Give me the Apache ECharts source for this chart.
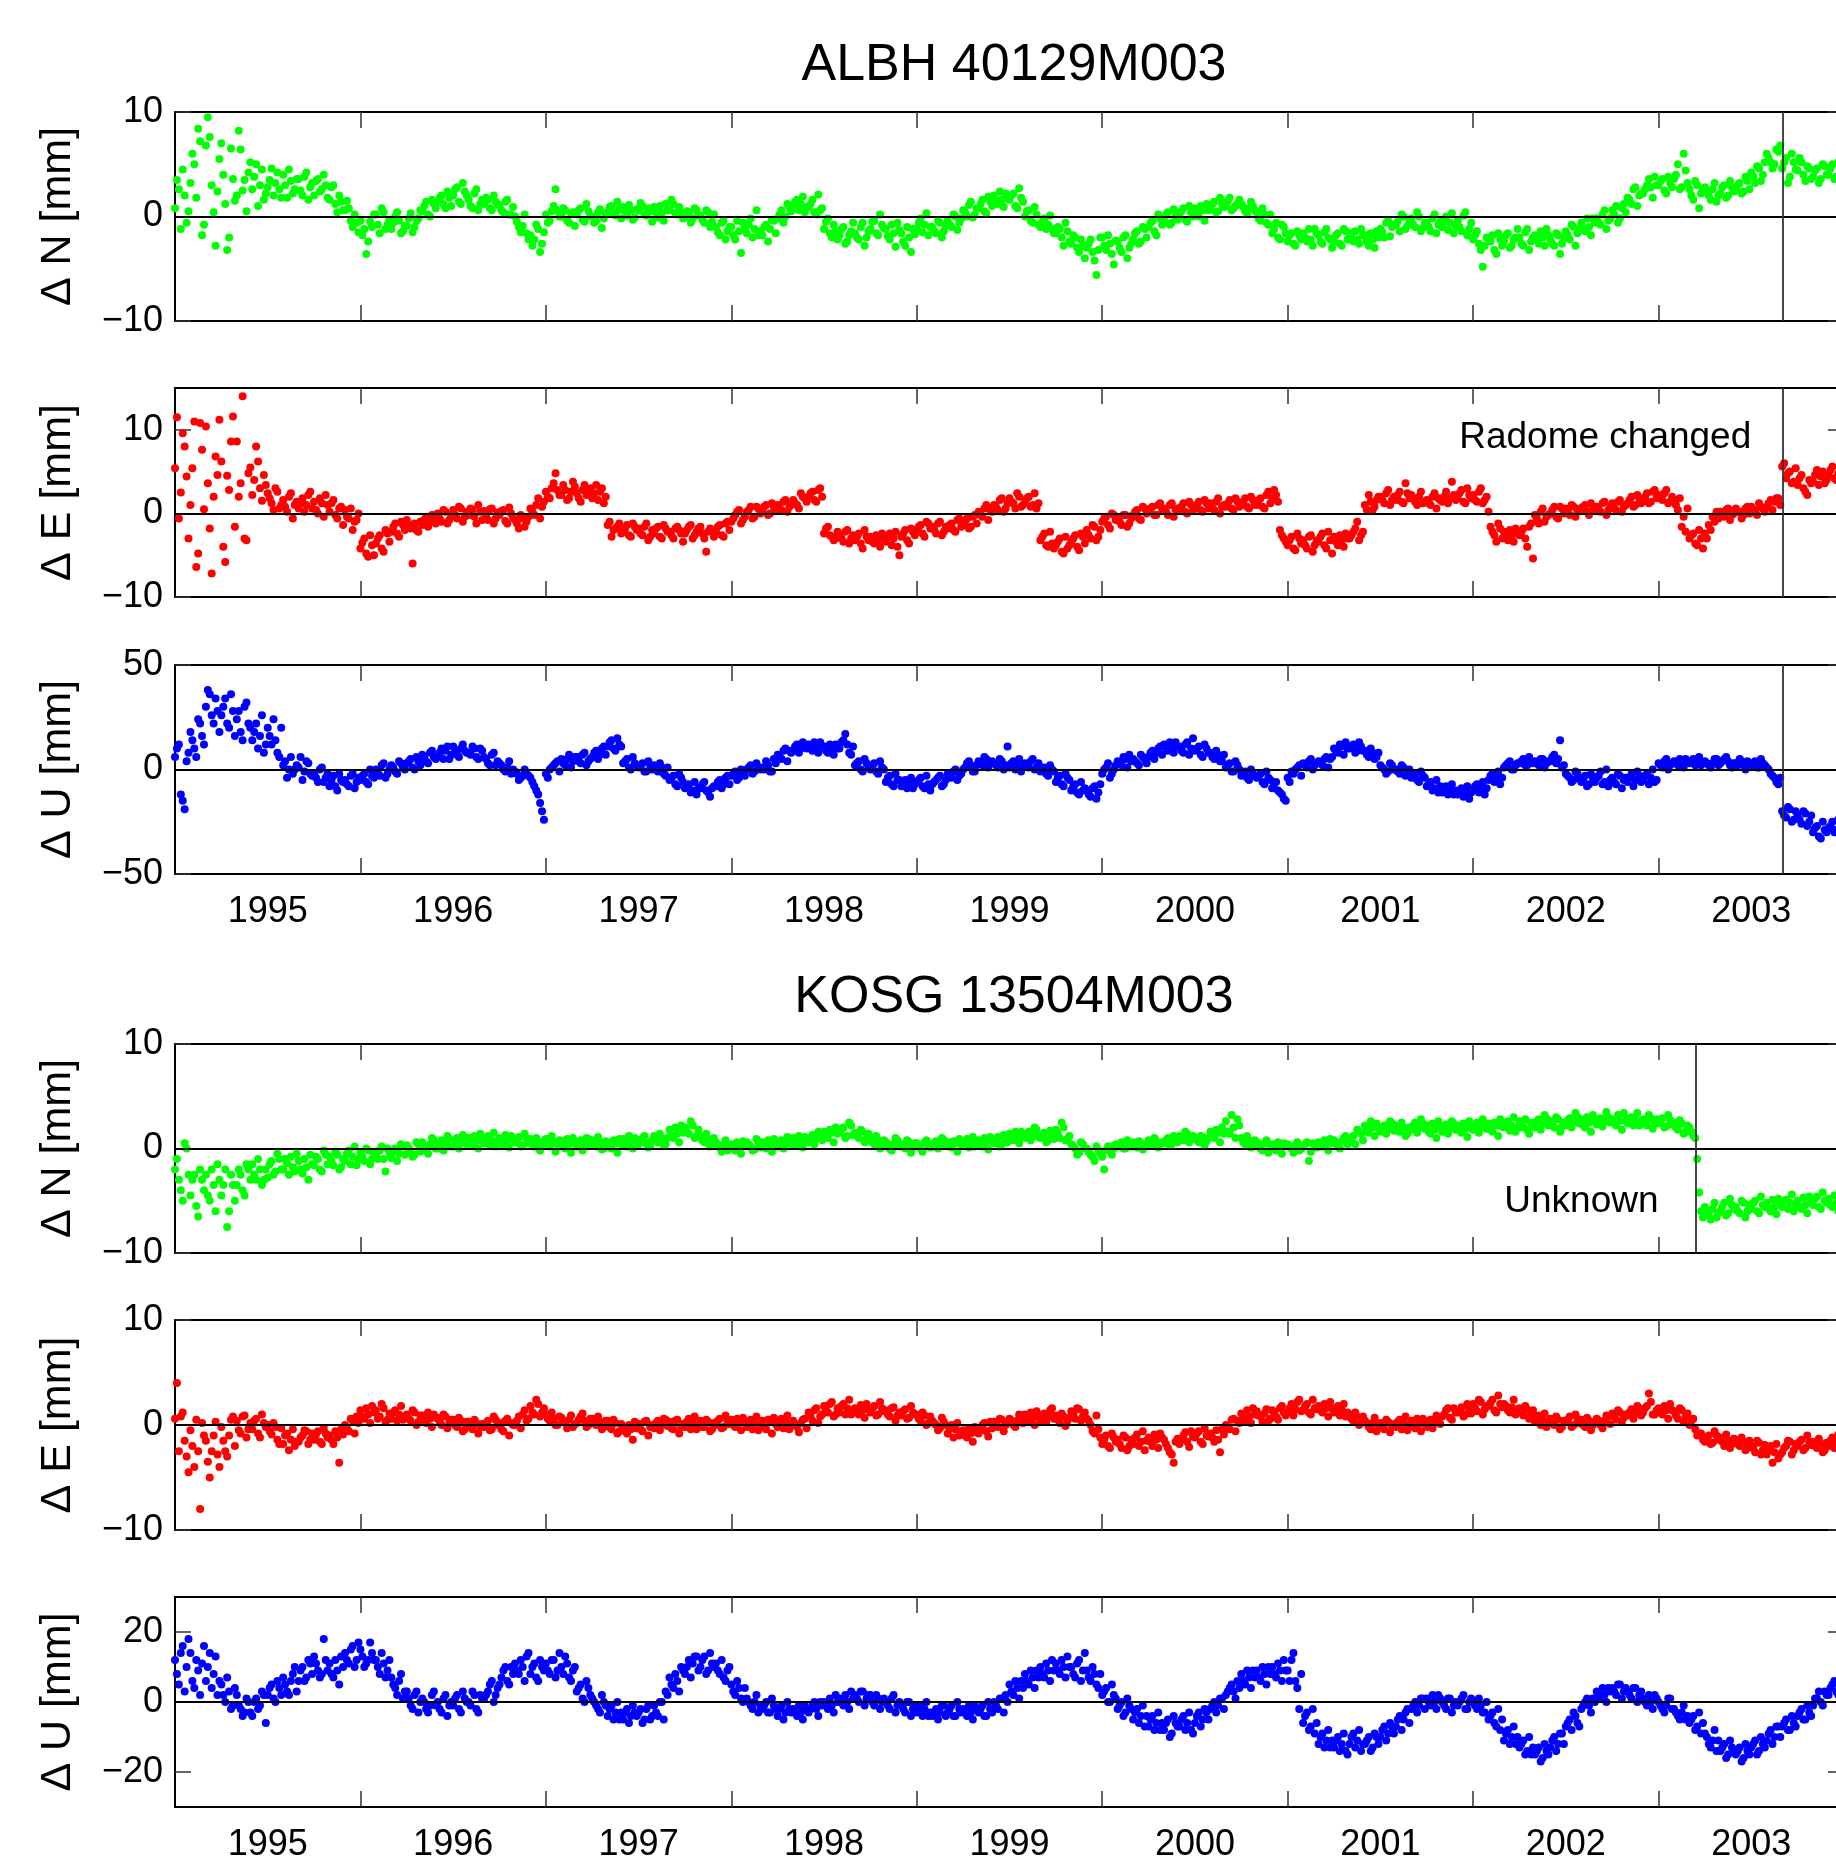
<!DOCTYPE html>
<html><head><meta charset="utf-8">
<script src="https://cdn.jsdelivr.net/npm/echarts@6/dist/echarts.min.js"></script>
<style>html,body{margin:0;padding:0;background:#fff}#c{width:1836px;height:1860px}</style>
</head><body><div id="c"></div>
<script>
// ---- data: two interleaved sample sets per panel (A at (k+0.5)/48, B at k/48 of a year), from 1995.0 ----
const startYear = 1995;
const samplesPerYear = 48;
const stationTitles = ['ALBH 40129M003', 'KOSG 13504M003'];
const yearTickValues = [1996, 1997, 1998, 1999, 2000, 2001, 2002, 2003];
const yearLabelValues = [1995.5, 1996.5, 1997.5, 1998.5, 1999.5, 2000.5, 2001.5, 2002.5, 2003.5];
const eventALBH = 2003.667;
const eventKOSG = 2003.20;
const noteALBH = {text: 'Radome changed', x: 2003.5, y: 9};
const noteKOSG = {text: 'Unknown', x: 2003.0, y: -5.1};

const N_ALBH = [
3.5,-1.2,2.0,0.5, 6.0,1.8,7.2,-0.8, 9.5,3.0,-2.8,5.5, 4.0,-3.2,6.5,1.5, 8.2,2.5,0.5,5.2, 3.8,1.0,4.5,2.2, 3.5,2.0,4.2,1.8, 3.0,4.5,2.2,3.6, 2.5,3.8,1.6,3.2, 3.4,2.4,4.0,1.8, 2.8,1.2,2.0,0.6, 1.5,-0.4,0.2,-1.5,
-1.8,-3.6,-0.5,0.2, -0.8,0.8,-1.2,-0.3, -0.6,0.4,-1.6,-0.9, -0.2,-1.5,-0.4,0.6, 1.0,0.2,1.6,0.8, 1.8,1.2,2.4,1.0, 2.6,1.4,3.2,2.0, 1.0,2.2,0.6,1.6, 1.8,0.8,2.0,1.2, 0.6,1.4,0.2,0.9, -0.5,-1.5,0.2,-2.2, -2.8,-0.8,-3.4,-1.5,
-0.6,0.5,2.6,0.0, 0.8,-0.4,0.3,-0.9, 0.6,-0.3,1.2,0.0, -0.6,0.4,-1.1,0.2, 0.9,0.3,1.4,-0.2, 0.5,1.1,-0.3,0.7, 1.3,0.2,0.8,-0.5, 0.4,1.0,-0.4,0.6, 1.6,0.3,0.9,-0.2, 0.5,-0.6,0.8,0.1, -0.3,0.6,-1.0,0.2, -1.5,-0.6,-2.2,-1.0,
-1.8,-0.4,-3.5,-1.2, -0.8,-2.0,0.6,-1.4, -1.0,-2.4,-0.3,-1.6, 0.2,-0.6,1.2,0.5, 1.4,0.6,1.9,0.9, 1.2,0.4,2.1,0.8, -0.5,-1.6,-0.8,-2.2, -1.2,-2.6,-1.8,-0.6, -2.0,-1.0,-2.8,-1.4, -0.5,-1.6,0.2,-1.1, -1.9,-0.8,-2.9,-1.3, -2.4,-1.0,-3.4,-1.7,
-0.6,-1.5,0.3,-1.0, -1.4,-0.4,-2.0,-0.9, -0.8,0.2,-1.3,-0.2, 0.4,1.1,-0.1,0.8, 1.2,0.5,1.9,1.0, 1.5,2.4,0.9,1.8, 2.0,1.0,2.7,1.4, 0.5,-0.4,0.9,-0.8, -0.5,-1.2,0.1,-1.6, -1.0,-2.0,-0.6,-2.4, -1.8,-3.0,-2.2,-4.0, -2.6,-3.4,-5.6,-2.0,
-2.8,-1.8,-3.6,-2.3, -3.0,-2.0,-4.0,-2.6, -1.6,-2.6,-1.0,-2.0, -0.6,-1.4,0.2,-0.8, 0.2,-0.8,0.7,-0.3, 0.5,-0.3,1.0,0.0, 0.3,1.0,-0.4,0.6, 1.2,0.4,1.8,0.9, 1.5,0.6,1.0,1.6, 0.9,0.3,1.4,0.6, -0.2,0.8,-0.6,0.2, -1.2,-2.0,-0.8,-1.6,
-1.8,-2.6,-1.4,-2.2, -2.0,-1.2,-2.8,-1.6, -2.4,-1.5,-2.0,-3.0, -1.8,-2.6,-1.2,-2.2, -2.0,-1.4,-2.6,-1.8, -2.4,-1.6,-3.0,-2.0, -1.5,-0.6,-1.9,-0.8, -0.5,0.2,-1.2,-0.4, -0.8,0.4,-1.4,-0.6, -1.0,-0.2,-1.6,-0.5, -0.4,-1.3,0.3,-0.9, -1.0,0.1,-1.8,-0.6,
-1.8,-2.6,-4.8,-2.0, -2.4,-3.2,-1.6,-2.8, -1.8,-3.0,-2.2,-1.2, -2.6,-1.5,-3.2,-2.0, -2.2,-1.4,-2.8,-1.8, -2.6,-1.6,-3.6,-2.0, -1.8,-0.8,-2.8,-1.2, -1.2,-0.2,-1.8,-0.6, -0.6,0.2,-1.2,-0.2, 0.2,-0.6,0.8,0.4, 1.6,2.6,1.0,2.2, 2.6,3.6,1.8,3.0,
3.4,2.5,3.8,2.8, 4.0,2.6,6.0,3.2, 2.0,3.4,0.8,2.6, 2.4,1.6,3.2,2.0, 2.8,1.8,3.4,2.4, 3.0,2.2,3.8,2.6, 3.8,4.8,3.4,5.2, 5.6,4.6,6.4,6.8, 5.2,3.2,6.0,4.5, 5.6,4.0,4.8,3.6, 4.4,3.2,5.0,4.0, 4.6,3.6,5.2,4.2
];
const N_ALBH_B = [
0.8,2.6,4.5,-0.6, 3.2,5.0,8.4,-1.8, 6.8,7.6,0.4,2.4, 7.0,1.2,-2.0,3.6, 2.0,6.4,3.5,4.2, 2.6,5.0,3.0,1.6, 2.8,4.6,3.2,2.6, 4.0,1.8,3.4,2.6, 3.6,2.0,4.2,2.8, 2.0,3.6,2.6,3.0, 1.6,3.0,0.4,1.4, 0.6,0.8,-1.0,-0.6,
-0.4,-1.2,-2.4,-1.0, 0.2,-1.6,0.4,-0.8, -1.2,0.0,-0.4,-1.4, -0.9,0.3,-1.0,-0.2, 0.5,1.4,0.0,1.2, 1.4,2.0,0.8,1.8, 2.0,2.8,1.2,2.4, 1.6,0.8,2.6,1.2, 1.2,1.6,0.6,1.4, 1.0,0.4,1.6,0.2, 0.0,-1.0,-0.9,-1.6, -1.8,-2.2,-1.2,-2.6,
0.2,-0.4,1.0,0.6, 0.0,0.6,-0.6,0.4, 0.2,0.8,-0.5,0.5, 0.0,-0.4,0.7,-0.2, 0.4,1.0,0.1,0.7, 0.9,0.1,0.6,-0.1, 0.6,1.0,0.1,0.5, 0.9,-0.1,0.3,1.2, 0.6,1.2,0.2,0.4, 0.0,0.4,-0.2,0.6, 0.1,-0.6,0.4,-0.5, -1.0,-1.8,-0.4,-1.4,
-1.0,-2.2,-1.4,-0.6, -1.6,-0.2,-1.2,-1.8, -1.8,-0.8,-1.2,-0.4, -0.2,0.6,0.0,0.9, 1.0,1.6,1.2,0.4, 0.9,1.6,0.2,0.6, -1.2,-0.2,-2.0,-1.4, -1.8,-1.0,-2.4,-1.4, -1.6,-2.2,-0.6,-2.0, -1.2,-0.4,-1.8,-0.8, -1.2,-2.2,-1.6,-0.6, -1.6,-2.8,-2.0,-1.2,
-1.2,-0.2,-0.8,-1.8, -1.0,-1.6,-0.6,-1.4, -0.4,-1.0,0.0,-0.6, 0.6,0.0,1.4,0.2, 0.8,1.6,0.3,1.4, 2.0,1.2,1.6,2.2, 1.6,2.2,0.8,1.8, 0.0,0.6,-0.6,0.2, -1.0,-0.2,-0.8,-1.2, -1.6,-1.2,-2.8,-1.4, -2.6,-2.0,-3.4,-2.8, -3.0,-2.2,-4.2,-3.2,
-2.0,-3.2,-2.6,-4.6, -2.4,-3.4,-1.8,-3.0, -2.2,-1.4,-2.4,-1.2, -1.0,-0.4,-1.8,-0.2, -0.4,0.4,-0.6,0.0, 0.2,0.8,-0.5,0.4, 0.8,0.0,0.6,1.2, 0.7,1.4,0.5,1.2, 1.0,1.8,0.8,1.2, 1.2,0.5,0.8,1.0, 0.4,-0.4,0.2,-0.8, -1.6,-0.6,-2.2,-1.0,
-2.4,-1.6,-2.8,-1.8, -1.6,-2.4,-2.2,-1.2, -1.8,-2.6,-1.2,-2.2, -2.4,-1.6,-2.8,-1.4, -1.6,-2.4,-2.2,-1.2, -1.8,-2.8,-2.2,-1.4, -1.2,-2.0,-0.4,-1.0, -0.8,-1.4,0.0,-0.9, -0.2,-1.0,0.0,-1.1, -0.6,-1.4,0.2,-0.8, -1.0,0.0,-0.6,-1.6, -0.4,-1.4,0.4,-1.2,
-2.2,-1.4,-3.2,-2.8, -2.0,-1.8,-3.6,-2.2, -2.4,-1.6,-2.8,-2.0, -2.0,-2.8,-1.2,-2.4, -1.8,-2.6,-2.0,-1.2, -2.2,-2.8,-1.8,-2.6, -1.4,-2.2,-1.0,-1.6, -0.6,-1.4,-1.0,-0.2, -0.2,-0.8,0.6,-0.4, 0.6,1.0,-0.2,1.2, 1.8,1.2,2.8,2.0, 2.2,3.0,2.8,3.8,
3.0,3.6,2.2,3.2, 3.6,5.0,2.8,4.4, 2.6,1.6,3.0,2.2, 2.8,2.0,2.6,1.4, 2.2,3.0,2.0,2.8, 2.6,3.2,2.4,3.4, 4.2,3.2,4.6,4.0, 6.0,5.2,5.0,6.2, 4.6,5.6,3.8,5.2, 4.4,5.2,3.4,4.6, 3.8,4.6,3.6,4.8, 4.0,5.0,3.8,4.8
];
const E_ALBH = [
11.5,2.5,8.0,-3.0, 5.4,-6.4,10.8,0.5, 3.6,-7.2,6.8,11.2, -4.0,4.5,8.6,-1.6, 2.0,14.0,-3.2,5.5, 4.0,6.2,1.5,3.4, 1.8,0.4,2.6,1.0, 0.8,2.0,-0.6,1.4, 1.2,0.2,2.2,0.6, 0.4,1.8,-0.4,1.0, 1.2,-0.2,0.6,-1.4, -0.4,0.6,-1.0,0.0,
-3.5,-4.8,-2.6,-5.0, -3.0,-4.2,-2.0,-3.4, -1.6,-2.4,-1.0,-2.0, -1.4,-6.0,-2.0,-1.0, -0.8,-1.6,-0.2,-1.2, -0.6,0.4,-1.2,-0.2, -0.2,0.8,-1.0,0.2, 0.6,-0.4,1.0,-0.8, -0.3,0.5,-1.2,0.1, 0.3,-0.9,0.7,-0.5, -1.2,-0.2,-1.6,-0.4, 0.2,1.0,-0.6,1.4,
2.0,3.0,4.8,2.2, 3.4,1.6,2.6,3.2, 1.8,2.8,2.2,3.0, 2.4,1.6,3.0,2.0, -1.0,-2.0,-1.6,-2.4, -1.8,-2.6,-1.2,-2.0, -2.4,-1.6,-3.2,-2.0, -1.8,-2.8,-1.4,-2.2, -2.6,-1.8,-2.0,-3.4, -2.0,-1.4,-2.6,-1.8, -2.4,-4.6,-1.8,-2.8, -1.6,-2.6,-1.2,-2.0,
-0.6,0.2,-1.2,-0.4, 0.4,-0.6,0.8,0.0, 0.8,-0.2,1.2,0.4, 0.6,1.4,0.2,1.0, 1.2,0.6,2.0,1.4, 2.4,1.6,2.8,2.0, -1.8,-2.6,-3.2,-2.2, -3.0,-2.2,-3.6,-2.6, -2.8,-3.6,-2.0,-3.2, -3.4,-2.6,-4.0,-3.0, -2.8,-3.8,-2.2,-5.0, -2.4,-3.2,-1.8,-2.6,
-1.6,-2.4,-1.0,-1.8, -2.0,-1.2,-2.6,-1.6, -1.4,-2.0,-0.8,-1.6, -1.0,-1.8,-0.4,-1.2, -0.2,0.6,-0.8,0.2, 0.8,1.6,0.2,1.2, 1.4,0.6,2.0,1.0, 1.8,0.8,2.4,1.2, -2.8,-3.8,-2.2,-4.2, -3.4,-4.6,-2.8,-3.8, -3.0,-4.0,-2.4,-3.6, -2.6,-1.4,-3.2,-2.0,
-0.6,-1.4,0.0,-0.8, -1.0,-0.2,-1.6,-0.6, 0.2,-0.6,0.8,0.0, 0.6,-0.2,1.0,0.4, 0.2,1.0,-0.4,0.6, 0.8,0.2,1.4,0.4, 1.0,0.4,1.6,0.6, 0.6,1.4,0.0,1.0, 1.2,0.6,1.8,0.8, 1.4,0.8,2.0,1.0, 1.6,0.8,2.2,1.2, 2.8,1.4,-2.6,-3.4,
-3.2,-4.2,-2.4,-3.6, -3.8,-2.8,-4.6,-3.2, -2.8,-3.8,-2.2,-4.8, -3.4,-2.6,-4.0,-3.0, -2.6,-1.8,-3.2,-2.2, 0.4,1.4,0.8,2.0, 1.6,2.4,1.0,2.0, 2.2,1.4,3.6,1.8, 1.8,1.0,2.6,1.4, 1.2,2.0,0.6,1.6, 2.0,1.2,3.8,1.6, 2.4,1.4,3.0,1.8,
1.6,2.6,1.2,2.0, -1.6,-2.6,-1.2,-3.0, -2.8,-2.0,-3.4,-2.4, -2.2,-3.0,-1.6,-5.4, -0.6,0.2,-1.0,-0.2, 0.4,-0.4,0.8,0.0, 0.2,1.0,-0.4,0.6, 0.8,0.2,1.2,0.4, 0.4,1.2,-0.2,0.8, 0.6,1.4,0.2,1.0, 1.6,0.8,2.2,1.2, 2.0,1.2,2.6,1.8,
1.8,2.4,1.2,2.0, 1.0,1.8,-0.4,0.6, -2.6,-3.6,-2.0,-4.2, -3.0,-2.0,-1.0,-0.6, -0.2,0.4,-0.8,0.0, 0.2,-0.6,0.6,0.0, 0.4,-0.2,0.8,0.2, 1.2,0.4,1.8,1.0, 6.0,4.8,3.6,5.4, 4.2,3.0,2.2,3.6, 4.6,3.4,5.0,4.0, 5.2,4.2,4.8,5.6
];
const E_ALBH_B = [
5.4,-0.6,9.6,4.4, 1.0,11.0,-4.8,7.6, 10.4,-1.8,2.0,4.6, 6.2,-5.8,2.8,11.6, 8.6,3.6,-3.0,4.8, 2.2,8.0,3.0,4.6, 2.4,1.2,3.0,0.6, 1.6,0.2,2.4,1.0, 0.6,1.8,1.0,2.6, 1.4,0.0,1.2,2.2, 0.2,1.6,-0.6,0.8, 0.4,-0.6,-2.0,-0.8,
-4.2,-3.0,-5.2,-3.8, -3.6,-2.6,-4.6,-2.4, -2.2,-1.2,-2.8,-1.4, -0.8,-1.8,-1.2,-2.2, -1.4,-0.4,-1.0,-0.6, 0.0,-1.0,0.2,-0.8, 0.4,-0.6,0.6,-0.4, -0.2,0.4,-1.2,0.2, 0.3,-0.8,0.6,-0.6, -0.2,0.4,-1.2,0.0, -0.8,-1.8,-0.6,-1.0, 0.6,-0.2,1.8,0.8,
2.6,1.8,3.6,2.8, 2.2,2.8,1.8,3.8, 2.4,1.4,3.4,2.6, 1.8,3.4,2.6,1.2, -1.4,-2.8,-1.8,-1.2, -2.2,-1.4,-2.8,-1.6, -1.8,-2.6,-1.2,-2.8, -2.4,-1.6,-3.0,-1.8, -2.2,-3.0,-1.6,-2.4, -2.4,-1.6,-3.0,-2.2, -1.6,-3.0,-2.2,-2.0, -2.2,-1.4,-2.8,-1.0,
-1.0,-0.2,0.4,-0.8, 0.2,0.8,-0.4,0.6, 0.4,1.0,0.0,0.8, 1.0,0.4,1.6,0.8, 1.6,1.0,2.4,1.8, 2.0,2.6,1.4,3.0, -2.4,-1.6,-2.8,-3.0, -2.6,-3.4,-2.0,-3.0, -3.2,-2.4,-4.2,-2.8, -2.8,-3.6,-3.2,-2.4, -3.4,-2.4,-3.0,-4.0, -2.8,-2.0,-3.6,-2.2,
-2.0,-1.4,-2.8,-1.2, -1.6,-2.4,-1.0,-2.2, -1.8,-1.2,-2.2,-0.6, -1.4,-0.6,-1.6,-0.2, 0.2,-0.4,1.0,0.4, 1.0,0.4,1.8,0.6, 1.8,1.2,2.4,0.8, 1.4,2.0,1.0,0.6, -3.2,-2.4,-4.0,-3.6, -3.8,-3.0,-4.8,-4.2, -3.4,-2.6,-4.4,-2.8, -2.0,-3.0,-1.6,-2.8,
-1.0,-0.4,-1.8,-0.2, -0.6,-1.4,-0.2,-1.2, -0.2,0.4,-0.8,0.6, 0.2,0.8,-0.2,1.2, 0.6,-0.2,1.2,0.4, 0.4,1.2,0.0,1.0, 0.6,1.4,0.2,1.2, 1.2,0.4,1.8,0.8, 0.8,1.6,0.4,1.4, 1.0,1.8,0.6,1.6, 1.0,1.8,0.6,2.6, 1.8,2.2,-2.0,-3.0,
-3.8,-2.8,-4.4,-3.0, -3.2,-4.2,-2.6,-3.8, -3.4,-2.4,-4.2,-3.2, -2.8,-3.8,-3.2,-2.4, -3.0,-2.2,-1.0,-2.6, 1.0,2.2,0.4,1.6, 2.0,1.2,2.8,1.6, 1.6,2.6,1.2,2.4, 2.2,1.4,2.0,1.2, 1.6,1.0,2.4,1.8, 1.4,2.6,1.8,2.2, 1.8,2.8,1.2,2.2,
2.2,1.4,3.0,1.6, 0.2,-2.2,-3.4,-1.8, -2.2,-3.2,-2.6,-1.8, -2.6,-1.8,-4.0,-1.2, -0.2,-1.2,0.6,-0.4, 0.0,0.8,-0.6,0.6, 0.6,-0.2,0.8,0.2, 0.4,1.0,-0.2,0.8, 0.8,0.2,1.4,0.4, 1.2,0.4,1.6,0.8, 1.2,2.0,1.0,1.8, 1.6,2.4,1.4,2.8,
2.2,1.6,2.8,1.4, 1.4,0.4,-1.6,-2.2, -3.0,-2.4,-3.8,-3.0, -2.4,-1.4,-0.4,0.2, 0.2,-0.4,0.6,-0.2, 0.6,0.2,-0.2,0.8, 0.8,0.4,1.2,0.6, 0.8,1.6,1.4,1.8, 5.6,4.2,5.0,3.8, 3.4,4.6,2.6,4.0, 3.8,5.2,4.4,3.6, 4.6,5.6,4.0,5.0
];
const U_ALBH = [
10,-12,-19,8, 14,6,22,12, 38,26,34,18, 30,22,36,16, 28,14,32,20, 18,10,26,12, 16,24,8,20, 4,0,-2,2, 6,-1,3,-3, -4,0,-6,-2, -5,-8,-2,-6, -7,-3,-9,-4,
-3,-6,0,-4, -1,2,-4,0, 1,-2,3,0, 4,1,6,2, 6,3,9,5, 8,5,11,7, 9,6,12,8, 7,10,5,9, 5,2,8,4, 2,-1,4,0, -2,-4,0,-3, -6,-10,-16,-24,
-4,1,3,-1, 3,5,1,6, 4,7,2,5, 8,5,10,7, 13,10,15,11, 4,1,6,2, 2,-1,4,0, 0,3,-2,1, -4,-7,-2,-6, -8,-11,-6,-9, -7,-10,-13,-8, -6,-9,-4,-7,
-2,-5,0,-3, 1,-2,3,0, 0,2,-1,3, 6,9,4,8, 11,8,13,10, 10,13,8,11, 9,12,7,10, 13,17,8,11, 3,0,5,1, 2,-1,4,0, -4,-7,-2,-5, -6,-9,-4,-7,
-5,-8,-3,-10, -6,-4,-8,-5, -3,-1,-5,-2, 1,4,-1,2, 3,6,1,4, 2,5,0,11, 3,0,5,1, 2,4,0,3, 0,-2,2,-1, -4,-7,-2,-5, -8,-11,-6,-9, -12,-9,-14,-7,
0,3,-2,2, 3,6,1,4, 4,2,6,3, 8,5,10,7, 10,13,8,11, 9,12,7,15, 10,7,12,8, 6,9,4,7, 2,-1,4,0, -2,-4,0,-3, -3,-6,-1,-5, -7,-10,-12,-15,
-6,-2,1,-3, 2,4,0,3, 3,5,1,6, 9,12,7,10, 11,8,13,9, 7,10,5,8, 1,-2,3,0, -1,2,-3,0, -3,-5,-1,-4, -7,-10,-5,-8, -9,-12,-7,-10, -10,-13,-8,-11,
-8,-11,-6,-9, -3,-6,-1,-4, 2,4,0,3, 4,2,6,3, 3,5,1,4, 6,3,14,2, -3,-6,-1,-4, -5,-8,-2,-6, -3,-7,0,-5, -6,-2,-9,-4, -4,-8,-1,-6, -3,-7,0,-5,
2,4,0,3, 3,5,1,4, 4,2,6,3, 3,1,5,2, 4,6,2,3, 2,4,0,3, 3,1,5,2, 0,-3,-6,-4, -22,-18,-25,-20, -24,-20,-27,-22, -28,-32,-25,-30, -27,-30,-24,-26
];
const U_ALBH_B = [
6,12,-15,4, 18,10,24,16, 30,36,22,28, 26,34,20,28, 24,18,30,22, 14,22,16,8, 20,12,14,6, 2,-4,6,0, 1,-5,4,-2, -2,-6,1,-4, -8,-3,-10,-5, -5,-8,-2,-6,
-5,-2,-7,-3, 0,-3,3,-2, 2,-1,4,1, 3,5,0,4, 7,4,8,6, 6,10,9,5, 11,7,10,9, 8,11,6,10, 6,3,7,2, 3,0,1,-2, -1,-5,-3,-2, -4,-8,-12,-20,
-2,0,2,4, 5,2,7,4, 6,3,8,4, 6,9,7,11, 11,14,9,12, 3,5,0,3, 1,3,-1,2, 2,-1,1,-3, -5,-3,-8,-4, -9,-7,-10,-12, -9,-6,-11,-9, -8,-5,-7,-3,
-3,-1,-4,-2, 0,2,-1,1, 1,4,-1,5, 7,5,10,9, 9,12,10,12, 12,9,11,13, 11,8,10,12, 10,14,12,7, 2,4,-1,3, 0,3,-2,1, -6,-3,-8,-5, -8,-5,-7,-9,
-6,-4,-9,-7, -7,-5,-3,-7, -2,-4,0,-3, 0,3,2,-1, 4,2,5,3, 3,1,4,2, 1,4,2,-1, 3,1,5,1, -1,1,-3,0, -6,-3,-8,-4, -10,-7,-12,-10, -10,-13,-8,-11,
-2,1,-4,0, 4,2,5,7, 5,3,7,5, 6,9,8,11, 12,9,11,13, 11,8,13,10, 9,11,6,10, 8,5,7,4, 1,3,-1,2, -3,-1,-5,-2, -4,-2,-7,-4, -9,-6,-11,-14,
-4,-1,0,2, 3,1,5,2, 4,2,6,5, 10,8,11,13, 10,12,9,11, 9,6,8,6, 2,0,-1,2, 0,-2,1,-1, -4,-2,-6,-3, -8,-6,-9,-11, -11,-8,-10,-12, -12,-9,-11,-14,
-10,-7,-9,-12, -5,-2,-4,-7, 1,3,0,2, 3,5,2,4, 4,2,5,3, 4,7,5,1, -2,-4,-5,-2, -6,-3,-7,-4, -4,-1,-6,-8, -4,-7,-3,-5, -6,-2,-5,-3, -5,-2,-4,-6,
3,1,5,2, 4,2,3,5, 3,5,4,2, 4,2,3,5, 3,5,4,1, 3,5,2,4, 2,4,1,3, 1,-2,-4,-7, -20,-23,-19,-24, -22,-26,-21,-25, -30,-27,-33,-29, -28,-25,-29,-27
];
const N_KOSG = [
-1,-4,0.5,-2.5, -3,-5.5,-2,-4, -4.5,-2,-6,-3, -3.5,-7.5,-2.5,-5, -2,-4,-1.5,-3, -2.5,-1,-3.5,-2, -1.5,-2.5,-0.5,-2, -1,-2.5,-1.8,-0.5, -2,-1,-3,-1.5, -0.8,-2,-0.2,-1.5, -1.2,-0.3,-2,-1, -0.5,-1.5,0.2,-1,
-0.8,0,-1.5,-0.5, -1,0.2,-2.2,-0.4, -0.3,-1.2,0.4,-0.6, 0,-0.8,0.6,-0.3, 0.3,-0.5,1,0, 0.5,-0.2,1.2,0.2, 0.8,0,1.3,0.4, 0.6,1.2,0,0.9, 1,0.3,1.5,0.7, 0.6,1.3,0.1,0.9, 0.8,0.2,1.4,0.5, 0.4,1,-0.2,0.7,
0.5,1.2,-0.3,0.8, 0.2,0.9,-0.4,0.5, 0.6,-0.2,1,0.3, 0.4,1.1,-0.1,0.7, 0.2,0.8,-0.4,0.4, 0.5,1.2,0,0.8, 0.6,1.2,0.1,0.8, 0.8,1.4,0.3,1, 1.2,2,0.6,1.5, 1.6,2.6,1,1.8, 0.8,1.4,0.2,1, 0.3,-0.3,0.8,0,
0,0.6,-0.5,0.3, 0.4,-0.2,0.9,0.1, 0.2,0.8,-0.3,0.5, 0.6,0,1.1,0.3, 0.5,1.2,0.1,0.8, 1,0.4,1.6,0.8, 1.2,1.8,0.6,1.4, 1.8,1,2.5,1.3, 1.2,1.8,0.6,1.4, 0.6,1.2,0,0.8, 0.4,-0.2,1,0.2, 0.2,0.8,-0.4,0.5,
0.3,-0.3,0.8,0.1, 0.5,0,1,0.3, 0.2,0.7,-0.3,0.4, 0.6,0.1,1.1,0.4, 0.4,1,-0.1,0.6, 0.8,0.2,1.3,0.6, 1,1.6,0.5,1.2, 1.4,0.8,2,1.1, 1.2,0.6,1.7,0.9, 1.4,2.5,0.8,1.2, 0.2,-0.6,0.6,0, -0.3,-0.8,0.2,-0.5,
-2,0.2,-0.6,0.4, 0.4,0,0.8,0.2, 0.3,0.7,-0.1,0.4, 0.5,1,0.1,0.6, 0.8,0.3,1.2,0.6, 1,1.6,0.6,1.2, 0.8,1.2,0.3,1, 1.2,1.8,0.6,1.4, 1.6,3.2,1,2.2, 0.6,1.2,0.1,0.8, 0.4,-0.2,0.8,0.2, 0,0.6,-0.5,0.3,
0.2,-0.4,0.6,0, 0.4,-1.2,0.5,0.1, 0.3,0.8,-0.2,0.5, 0.6,0,1,0.4, 1,0.4,1.6,0.8, 1.8,2.6,1.2,2, 2,1.4,2.6,1.7, 1.8,2.5,1.2,2, 2.2,1.5,2.8,1.9, 1.6,2.4,1,2, 2.1,1.4,2.6,1.8, 1.7,2.4,1.1,2,
2.2,1.5,2.8,1.9, 1.8,2.5,1.2,2.1, 2.4,1.7,3,2, 2,2.8,1.4,2.3, 2.6,1.8,3.2,2.2, 2.3,3,1.6,2.5, 2.7,2,3.4,2.4, 2.2,3,1.6,2.6, 2.8,2.1,3.5,2.5, 2.4,3.2,1.8,2.7, 2.9,2.2,3.4,2.6, 2.5,3.2,1.9,2.8,
2.6,2,3.2,2.3, 2,2.7,1.4,2.2, 1.6,1,-4.2,-6.6, -6,-6.8,-5.2,-6.2, -5.6,-6.4,-4.8,-5.8, -6,-5,-6.6,-5.4, -5.2,-6,-4.6,-5.6, -5.8,-4.9,-6.3,-5.3, -5,-5.8,-4.4,-5.4, -5.6,-4.7,-6.2,-5.1, -4.8,-5.6,-4.2,-5.2, -5.4,-4.5,-6,-5
];
const N_KOSG_B = [
-2,-3,-5,0, -4.5,-2.5,-6.5,-3, -2.5,-5,-3.5,-1.5, -4.5,-2,-6,-3.5, -3.5,-2.5,-4.5,-2, -1.5,-3,-2,-3, -2.8,-1.2,-2.2,-1.0, -2,-1.4,-0.8,-2.2, -1.2,-2.4,-1.8,-0.6, -1.6,-1.0,-2.2,-0.6, -0.8,-1.6,-0.6,-1.8, -1.2,-0.2,-0.8,-1.6,
-0.4,-1.2,-0.2,-1.0, -0.6,-0.2,-1.0,0.0, -0.9,0.0,-0.5,0.2, 0.3,-0.4,-0.6,0.4, 0.6,-0.2,0.4,0.8, 0.0,0.8,0.4,0.9, 0.2,1.0,0.6,1.1, 1.0,0.3,0.7,1.4, 0.5,1.2,0.8,0.2, 1.0,0.3,0.7,1.2, 0.6,1.1,0.3,1.0, 0.9,0.2,0.6,0.3,
0.9,0.2,0.6,0.4, 0.7,0.0,0.4,1.0, 0.2,0.8,0.4,0.9, 0.8,0.2,0.6,0.0, 0.6,0.0,0.5,0.9, 0.9,0.2,0.6,1.0, 0.4,1.0,0.5,0.2, 1.2,0.6,1.0,0.4, 1.8,1.0,1.4,2.2, 2.0,1.4,2.2,1.2, 1.2,0.6,0.9,0.3, 0.6,0.1,0.4,-0.2,
0.4,-0.2,0.2,0.7, 0.6,0.2,-0.1,0.5, 0.6,0.0,0.3,0.9, 0.2,0.8,0.5,0.9, 1.0,0.4,0.7,1.1, 0.6,1.3,1.0,1.5, 1.6,1.0,1.5,2.0, 1.5,2.0,1.2,2.2, 1.5,1.0,1.6,0.9, 1.0,0.4,0.8,0.2, 0.6,0.0,0.4,0.8, 0.4,0.0,0.6,0.1,
0.5,0.0,0.6,0.3, 0.2,0.7,0.4,0.8, 0.6,0.1,0.5,0.9, 0.3,0.9,0.6,0.2, 0.8,0.2,0.6,1.1, 0.5,1.1,0.4,0.9, 1.4,0.8,1.0,1.6, 1.0,1.6,1.2,1.8, 1.0,1.5,0.8,1.3, 1.8,1.0,2.0,0.9, 0.4,0.0,-0.4,0.4, 0.0,-0.6,-1.2,-0.2,
-0.8,-0.2,0.2,0.0, 0.2,0.6,0.0,0.5, 0.6,0.1,0.5,0.2, 0.8,0.3,0.7,0.4, 0.5,1.0,0.4,0.9, 1.2,0.8,1.4,0.9, 1.0,0.6,1.1,0.7, 1.6,1.0,1.5,2.0, 2.6,1.4,2.0,2.8, 1.0,0.4,0.8,0.2, 0.6,0.0,0.5,-0.4, 0.4,-0.2,0.2,0.5,
0.4,0.0,0.3,-0.2, 0.2,0.6,-0.3,0.3, 0.6,0.2,0.5,0.9, 0.8,0.2,0.7,1.2, 0.7,1.2,1.8,1.4, 2.2,1.5,2.0,2.4, 1.6,2.2,1.9,2.4, 2.2,1.6,2.0,1.4, 1.8,2.5,2.0,2.4, 2.2,1.4,1.8,2.6, 1.6,2.3,1.9,2.4, 2.2,1.5,1.9,2.6,
1.8,2.5,2.0,2.4, 2.4,1.6,2.2,2.8, 2.0,2.6,2.2,1.6, 2.6,2.1,1.8,2.5, 2.0,2.8,2.4,2.9, 2.6,2.0,2.8,2.1, 2.2,2.9,2.5,3.0, 2.8,2.0,2.5,3.2, 2.3,2.9,2.6,3.0, 2.8,2.2,2.6,3.4, 2.4,3.0,2.7,2.2, 2.8,2.2,2.9,2.4,
2.4,2.9,2.1,2.7, 2.5,1.8,2.4,1.6, 2.0,1.2,-1.0,-6.0, -5.6,-6.4,-5.8,-6.6, -6.0,-5.2,-6.2,-5.4, -5.6,-6.2,-5.2,-6.0, -5.8,-5.0,-6.2,-5.4, -5.2,-6.0,-5.6,-4.8, -5.6,-4.9,-5.2,-6.0, -5.0,-5.8,-5.4,-4.6, -5.4,-4.6,-5.8,-5.0, -4.8,-5.6,-5.2,-4.4
];
const E_KOSG = [
4,0.8,-1.5,-4.5, -2,0.5,-8,-1, -3.5,-2.5,0.3,-4, -1.5,-3,0.5,-2, -0.5,0.8,-1.2,0.2, 0.4,-0.8,1,-0.2, -0.6,0.2,-1.4,-0.3, -1,-2.4,-0.4,-1.6, -1.2,-0.5,-1.8,-0.8, -0.9,-1.6,-0.3,-1.2, -1.4,-0.6,-3.6,-0.9, -0.3,0.6,-0.8,0.2,
0.8,1.6,0.2,1.2, 0.6,2,0.3,1.1, 1.2,0.4,1.8,0.8, 0.6,1.4,0,0.9, 0.5,1.2,-0.2,0.7, 0.3,1,-0.3,0.5, 0,0.7,-0.6,0.3, -0.2,0.5,-0.8,0.1, 0.2,-0.5,0.8,0, -0.4,0.4,-1,0, 0.4,-0.3,1.4,0.6, 1.2,2.4,0.8,1.6,
0.6,1.2,0,0.8, 0.4,-0.3,0.9,0.1, 0.5,1.1,-0.2,0.6, 0.2,0.8,-0.4,0.4, -0.2,0.5,-0.8,0.1, -0.6,0,-1.4,-0.3, -0.4,0.3,-1,0, 0.2,-0.5,0.6,-0.1, -0.3,0.4,-0.8,0.1, 0.3,-0.4,0.8,0, -0.2,0.5,-0.6,0.2, 0.4,-0.3,0.9,0.1,
0,0.6,-0.5,0.3, 0.3,-0.4,0.8,0, -0.2,0.5,-0.8,0.1, 0.4,-0.3,0.9,0.1, 0,-0.7,0.5,-0.3, 0.8,1.4,0.2,1, 1.4,2,0.8,1.6, 1.8,1,2.4,1.4, 1.2,1.9,0.7,1.5, 1.6,0.9,2.2,1.3, 1,1.6,0.4,1.2, 1.3,0.6,1.8,1,
0.6,1.2,0,0.8, 0.2,-0.5,0.7,0, -0.4,-1.2,0.2,-0.6, -1,-0.3,-1.6,-0.7, -0.5,0.2,-1.1,-0.3, 0,0.6,-0.6,0.3, 0.4,-0.2,1,0.2, 0.6,1.2,0,0.8, 0.9,0.3,1.4,0.6, 0.5,1.1,-0.1,0.7, 1,1.6,0.4,1.2, 0.4,-0.6,0.9,-1.2,
-1.4,-2,-0.8,-1.6, -1.8,-1,-2.4,-1.4, -1.2,-2,-0.6,-1.5, -1.6,-0.9,-2.2,-1.2, -1.8,-2.6,-3.6,-1.3, -1.4,-0.7,-2.1,-1.1, -0.8,-1.6,-0.3,-1.1, -1.2,-0.5,-2.6,-0.9, -0.2,0.5,-0.6,0.2, 0.7,1.4,0.2,1, 0.9,0.3,1.5,0.6, 1.2,0.5,1.8,0.9,
1.6,0.9,2.2,1.3, 1.8,1.2,2.4,1.5, 1.4,2,0.8,1.6, 1.5,0.9,2,1.2, 0.6,1.2,0,0.8, 0.2,-0.4,0.7,0, -0.2,0.5,-0.7,0.1, 0.3,-0.4,0.8,0, -0.1,0.6,-0.6,0.2, 0.4,-0.3,0.9,0.1, 1,1.6,0.5,1.2, 1.4,0.8,2,1.1,
1.6,2.4,1,1.8, 2.1,1.4,2.8,1.7, 1.8,1.2,2.4,1.5, 1.2,1.8,0.6,1.4, 0.6,0,1.1,0.3, 0.2,0.8,-0.4,0.4, 0.5,-0.2,1,0.2, 0,0.7,-0.5,0.3, 0.4,-0.3,0.9,0.1, 0.8,1.4,0.3,1, 1.2,0.6,1.8,0.9, 1.6,3,1,1.4,
1.2,1.8,0.6,1.4, 0.9,1.6,0.3,1.1, 0.4,-0.4,-0.8,-1.4, -1.2,-1.8,-0.6,-1.4, -1.6,-0.9,-2.2,-1.3, -1.8,-1.2,-2.4,-1.5, -2.2,-1.5,-2.8,-1.9, -2.4,-3.6,-1.8,-2.8, -2.2,-1.5,-2.8,-1.8, -1.6,-2.4,-1,-1.9, -2,-1.3,-2.6,-1.7, -1.5,-2.2,-0.9,-1.8
];
const E_KOSG_B = [
0.6,-2.5,1.2,-3, -0.5,-4,-2.5,0.2, -1.5,-5,-1,-2.8, -0.2,-2.5,-1,0.8, 0.4,-0.8,0.9,-0.4, -0.4,0.6,-1.2,0.2, 0.0,-0.9,-0.2,-1.8, -1.8,-0.8,-1.4,-2.0, -1.6,-1.0,-0.6,-1.4, -1.4,-0.6,-1.8,-0.8, -1.0,-1.8,-1.2,-0.4, 0.0,-0.6,0.4,0.8,
1.4,0.6,1.0,1.8, 1.4,0.8,1.6,0.5, 0.6,1.4,1.0,0.5, 1.0,0.4,1.2,0.3, 0.9,0.2,0.6,1.0, 0.7,0.0,0.8,0.2, 0.5,-0.2,0.4,-0.4, 0.3,-0.4,0.2,-0.2, -0.2,0.4,-0.4,0.5, 0.2,-0.6,0.6,0.2, 0.0,0.8,1.0,0.4, 1.8,1.0,2.0,1.2,
1.0,0.4,0.6,0.0, 0.7,0.2,0.5,-0.2, 0.2,0.8,0.4,0.0, 0.6,0.0,0.3,-0.2, 0.4,-0.4,0.2,-0.6, -0.2,-0.8,-0.4,0.3, 0.1,-0.6,0.4,-0.2, -0.3,0.4,0.0,0.5, 0.3,-0.4,0.5,-0.2, -0.2,0.6,0.2,-0.4, 0.4,-0.2,0.3,-0.4, 0.0,0.6,-0.2,0.4,
0.5,-0.2,0.2,0.7, -0.2,0.5,0.2,-0.5, 0.4,-0.4,0.3,0.7, -0.2,0.6,0.3,-0.4, 0.4,-0.2,0.2,0.6, 1.2,0.4,1.6,0.8, 1.8,1.2,2.2,1.0, 1.2,2.0,1.6,1.0, 1.6,1.0,1.4,2.0, 1.2,1.8,1.0,1.6, 1.4,0.8,1.7,0.9, 0.9,1.5,0.7,1.2,
1.0,0.4,0.9,0.2, 0.4,0.0,-0.3,0.3, -0.8,0.0,-0.4,-1.0, -0.5,-1.2,-0.8,-0.2, -0.8,0.0,-0.6,0.3, 0.3,-0.2,0.5,0.0, 0.6,0.0,0.4,0.9, 1.0,0.4,0.7,1.3, 0.4,1.1,0.8,1.6, 0.9,0.2,0.8,0.4, 1.3,0.6,1.5,0.8, 0.6,0.0,-0.8,-0.4,
-1.8,-1.0,-2.2,-1.2, -1.4,-2.2,-1.2,-2.0, -1.8,-0.9,-1.6,-2.4, -1.2,-2.0,-1.4,-0.8, -1.4,-2.2,-2.8,-1.6, -1.8,-1.0,-1.6,-0.6, -1.2,-0.6,-1.8,-1.0, -0.8,-1.6,-1.4,-0.4, 0.0,-0.4,0.6,0.4, 1.1,0.4,0.8,1.6, 1.3,0.8,1.1,0.4, 1.4,0.8,1.6,1.2,
1.2,2.0,1.5,2.4, 1.4,2.0,1.0,1.6, 1.8,1.2,1.6,2.2, 1.2,1.8,1.4,0.8, 1.0,0.4,0.8,0.2, 0.4,-0.2,0.2,-0.6, 0.2,-0.4,0.3,-0.1, -0.2,0.5,0.2,-0.5, 0.4,-0.3,0.1,0.6, -0.2,0.5,0.2,0.7, 0.8,1.4,0.7,1.6, 1.2,1.7,1.0,1.5,
2.0,1.3,2.2,1.5, 1.8,2.4,1.2,2.0, 2.0,1.4,1.7,1.0, 1.6,0.9,1.5,1.0, 0.3,0.9,0.5,-0.2, 0.6,0.0,0.5,-0.2, 0.3,0.8,0.0,0.6, 0.5,-0.2,0.4,0.0, 0.6,0.0,0.4,0.8, 1.1,0.5,1.2,0.7, 0.9,1.5,1.1,1.6, 1.2,1.8,2.2,1.0,
1.6,1.0,1.4,2.0, 1.3,0.6,1.4,0.8, 0.0,0.6,-1.0,-0.8, -1.6,-1.0,-1.7,-1.0, -1.2,-2.0,-1.5,-1.8, -1.4,-2.0,-1.6,-2.2, -2.0,-2.6,-1.7,-2.4, -2.8,-2.0,-2.6,-3.2, -2.6,-2.0,-1.6,-2.4, -2.0,-1.4,-2.2,-1.6, -1.6,-2.2,-1.8,-2.4, -2.0,-1.2,-1.8,-2.4
];
const U_KOSG = [
8,14,3,18, 6,12,2,16, 10,4,13,6, 2,7,-2,4, -1,-4,1,-3, 0,-2,3,-6, 4,1,6,2, 5,2,8,3, 9,6,12,8, 11,7,18,9, 8,12,5,10, 12,15,10,17,
13,11,17,12, 10,14,7,12, 5,2,8,3, 1,-2,3,0, 0,-3,2,-1, -2,1,-4,0, 1,-2,3,0, -1,2,-3,1, 2,5,0,4, 7,10,5,8, 9,12,6,14, 10,7,12,9,
9,12,7,14, 8,11,6,10, 4,1,6,2, 0,-2,2,-1, -2,-5,0,-3, -3,-6,-1,-4, -2,-5,-1,-4, -3,0,-5,2, 5,8,3,9, 10,7,13,9, 12,8,14,10, 9,12,6,10,
3,6,1,4, 0,-2,2,-1, -1,-3,1,-2, -2,-5,0,-3, -3,-1,-5,-2, -2,0,-4,-1, -1,1,-3,0, 0,2,-2,1, 1,3,-1,2, 0,2,-2,1, -1,1,-3,0, -2,0,-4,-1,
-2,-4,0,-3, -3,-5,-1,-4, -2,-4,0,-3, -3,-1,-5,-2, -2,-4,0,-3, -1,1,-3,0, 3,6,1,4, 6,9,4,7, 8,11,6,9, 9,12,7,10, 8,11,6,14, 7,10,5,8,
3,0,5,1, -1,-4,1,-2, -3,-6,-1,-4, -5,-8,-3,-6, -6,-10,-4,-7, -5,-8,-3,-9, -4,-7,-2,-5, -1,-3,1,-2, 3,5,1,4, 6,9,4,7, 7,10,5,8, 8,11,6,9,
6,14,4,8, -4,-8,-2,-6, -10,-13,-8,-11, -11,-14,-9,-15, -10,-13,-8,-12, -11,-14,-9,-12, -8,-11,-6,-9, -5,-8,-3,-6, -1,-3,1,-2, 0,2,-2,1, -1,1,-3,0, 0,2,-2,1,
-1,1,-3,0, -4,-6,-2,-5, -9,-12,-7,-10, -12,-15,-10,-13, -14,-17,-12,-15, -11,-14,-9,-12, -6,-8,-4,-7, -1,1,-3,0, 2,4,0,3, 3,5,1,4, 2,4,0,3, 0,2,-2,1,
-1,-3,1,-2, -3,-5,-1,-4, -5,-8,-3,-6, -10,-13,-8,-11, -13,-16,-11,-14, -14,-17,-12,-15, -12,-15,-10,-13, -9,-12,-7,-10, -6,-8,-4,-7, -3,-5,-1,-4, 1,3,-1,2, 4,6,2,8
];
const U_KOSG_B = [
12,5,16,10, 14,4,9,11, 6,14,8,2, 5,0,3,-1, 2,-2,-3,0, -4,1,-1,2, 2,5,0,4, 7,3,6,10, 6,10,7,11, 13,9,8,12, 11,7,9,13, 14,11,16,12,
15,10,12,14, 12,8,11,9, 7,4,6,1, 3,-1,2,-3, 1,-2,-1,3, 0,-3,2,-1, -1,2,-3,1, 0,3,-2,2, 1,3,6,2, 5,9,6,10, 11,8,10,13, 8,11,6,10,
11,8,12,9, 10,13,7,9, 3,5,0,4, 1,-1,-3,0, -4,-1,-3,-5, -5,-2,-4,-3, -3,-6,-2,-5, -1,-4,0,3, 7,4,6,10, 8,12,11,13, 10,13,9,11, 11,8,7,9,
5,2,4,0, 1,-1,0,-3, -2,0,-3,-1, -4,-1,-3,-2, -2,-4,-3,-1, -3,-1,-2,0, 0,-2,-1,2, 1,-1,0,3, 2,0,3,1, 2,-1,1,0, 0,-2,2,-1, -1,-3,0,-2,
-3,-1,-2,-4, -4,-2,-3,-1, -3,-1,-4,-2, -2,-4,-3,-1, -3,-1,-4,-2, 0,-2,1,2, 5,2,4,6, 8,5,7,9, 10,7,9,12, 11,8,10,13, 10,7,12,9, 9,6,8,4,
2,4,0,2, -2,0,-3,-1, -5,-2,-4,-7, -7,-4,-6,-8, -8,-5,-9,-6, -7,-4,-6,-8, -6,-3,-5,-3, -2,0,-1,1, 2,4,3,6, 8,5,7,9, 9,6,8,10, 10,7,9,12,
9,12,6,-2, -6,-3,-7,-9, -12,-9,-11,-13, -13,-10,-12,-14, -12,-9,-11,-14, -12,-10,-13,-10, -10,-7,-9,-7, -7,-4,-5,-2, -2,0,-1,1, 1,-1,0,2, 0,-2,1,-1, -1,1,-2,0,
0,-2,-1,-3, -5,-3,-7,-8, -11,-8,-10,-12, -13,-11,-14,-15, -15,-13,-16,-14, -13,-10,-12,-9, -7,-5,-3,-6, -2,0,-1,1, 3,1,2,4, 4,2,5,3, 3,1,4,2, 1,-1,0,2,
0,-2,-1,1, -2,-4,-3,-5, -6,-4,-7,-9, -9,-12,-11,-14, -14,-12,-15,-13, -15,-13,-16,-14, -13,-11,-14,-12, -11,-8,-10,-7, -7,-5,-8,-6, -4,-2,-5,-3, -1,1,0,3, 2,5,3,6
];

// ---- layout / styling ----
const FONT = '"Liberation Sans", Arial, Helvetica, sans-serif';
const panels = [
  {a: N_ALBH, b: N_ALBH_B, color: '#00ff00', name: 'Δ N [mm]', min: -10, max: 10, ticks: [-10, 0, 10], top: 112, height: 209, ev: eventALBH, note: null, xlab: false},
  {a: E_ALBH, b: E_ALBH_B, color: '#ff0000', name: 'Δ E [mm]', min: -10, max: 15, ticks: [-10, 0, 10], top: 388, height: 209, ev: eventALBH, note: noteALBH, xlab: false},
  {a: U_ALBH, b: U_ALBH_B, color: '#0000ff', name: 'Δ U [mm]', min: -50, max: 50, ticks: [-50, 0, 50], top: 665, height: 209, ev: eventALBH, note: null, xlab: true},
  {a: N_KOSG, b: N_KOSG_B, color: '#00ff00', name: 'Δ N [mm]', min: -10, max: 10, ticks: [-10, 0, 10], top: 1044, height: 209, ev: eventKOSG, note: noteKOSG, xlab: false},
  {a: E_KOSG, b: E_KOSG_B, color: '#ff0000', name: 'Δ E [mm]', min: -10, max: 10, ticks: [-10, 0, 10], top: 1320, height: 210, ev: null, note: null, xlab: false},
  {a: U_KOSG, b: U_KOSG_B, color: '#0000ff', name: 'Δ U [mm]', min: -30, max: 30, ticks: [-20, 0, 20], top: 1597, height: 210, ev: null, note: null, xlab: true}
];
const PLOT_LEFT = 175, PLOT_WIDTH = 1669;
const fmtNum = v => String(v).replace('-', '\u2212');
const toPoints = (a, b) => {
  const pts = [];
  b.forEach((v, k) => pts.push([startYear + k / samplesPerYear, v]));
  a.forEach((v, k) => pts.push([startYear + (k + 0.5) / samplesPerYear, v]));
  return pts;
};

const grids = [], xAxes = [], yAxes = [], series = [];
panels.forEach((p, i) => {
  grids.push({left: PLOT_LEFT, top: p.top, width: PLOT_WIDTH, height: p.height, containLabel: false, outerBoundsMode: 'none'});
  const tickStyle = {show: true, inside: true, length: 16, lineStyle: {color: '#333', width: 1.5}};
  const lineStyle = {show: true, onZero: false, lineStyle: {color: '#000', width: 2}};
  ['bottom', 'top'].forEach(pos => {
    xAxes.push({
      type: 'value', gridIndex: i, min: startYear, max: 2004, position: pos,
      axisLine: lineStyle,
      axisTick: Object.assign({customValues: yearTickValues}, tickStyle),
      axisLabel: {show: pos === 'bottom' && p.xlab, customValues: yearLabelValues,
        formatter: v => String(Math.floor(v)), fontSize: 36, color: '#000', margin: 20, fontFamily: FONT},
      splitLine: {show: false}
    });
  });
  ['left', 'right'].forEach(pos => {
    yAxes.push({
      type: 'value', gridIndex: i, min: p.min, max: p.max, position: pos,
      axisLine: lineStyle,
      axisTick: Object.assign({customValues: p.ticks}, tickStyle),
      axisLabel: {show: pos === 'left', customValues: p.ticks, formatter: fmtNum,
        fontSize: 36, color: '#000', margin: 12, fontFamily: FONT},
      splitLine: {show: false},
      name: pos === 'left' ? p.name : '', nameLocation: 'middle', nameGap: 95, nameRotate: 90,
      nameTextStyle: {fontSize: 43, color: '#000', fontFamily: FONT}
    });
  });
  const mlData = [{yAxis: 0, lineStyle: {color: '#000', width: 1.8, type: 'solid'}}];
  if (p.ev !== null) mlData.push({xAxis: p.ev, lineStyle: {color: '#333', width: 1.8, type: 'solid'}});
  series.push({
    type: 'scatter', xAxisIndex: 2 * i, yAxisIndex: 2 * i,
    data: toPoints(p.a, p.b),
    symbol: 'circle', symbolSize: 8, itemStyle: {color: p.color, opacity: 1},
    markLine: {silent: true, symbol: ['none', 'none'], label: {show: false}, animation: false, data: mlData},
    z: 2
  });
  if (p.note) {
    series.push({
      type: 'scatter', xAxisIndex: 2 * i, yAxisIndex: 2 * i,
      data: [[p.note.x, p.note.y]], symbolSize: 0, silent: true,
      itemStyle: {opacity: 1, color: '#000'},
      label: {show: true, position: 'left', distance: 0, formatter: p.note.text, opacity: 1,
        fontSize: 37, color: '#000', fontFamily: FONT, textBorderWidth: 0},
      z: 5
    });
  }
});

const chart = echarts.init(document.getElementById('c'), null, {renderer: 'canvas'});
chart.setOption({
  animation: false,
  backgroundColor: '#fff',
  title: [
    {text: stationTitles[0], left: 1009, top: 35, textAlign: 'center',
      textStyle: {fontSize: 52, fontWeight: 'normal', color: '#000', fontFamily: FONT}},
    {text: stationTitles[1], left: 1009, top: 967, textAlign: 'center',
      textStyle: {fontSize: 52, fontWeight: 'normal', color: '#000', fontFamily: FONT}}
  ],
  grid: grids, xAxis: xAxes, yAxis: yAxes, series: series
});
</script></body></html>
